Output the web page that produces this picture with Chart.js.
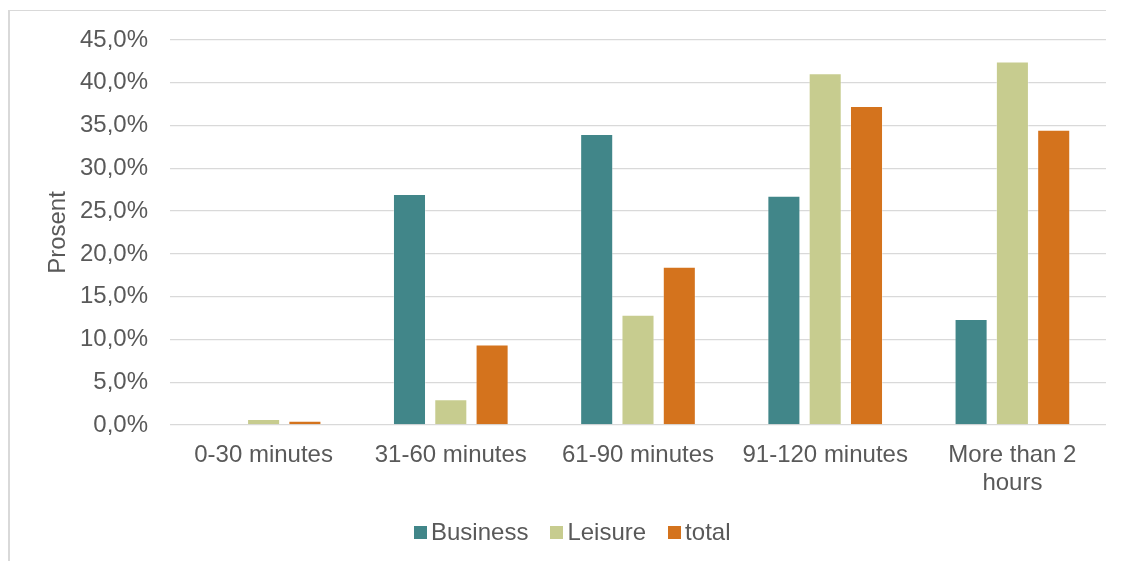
<!DOCTYPE html>
<html>
<head>
<meta charset="utf-8">
<script src="https://cdn.jsdelivr.net/npm/chart.js@4/dist/chart.umd.min.js"></script>
<style>
  html, body { margin: 0; padding: 0; background: #ffffff; }
  #wrap { position: relative; width: 1122px; height: 561px; overflow: hidden;
          font-family: "Liberation Sans", Arial, sans-serif; }
  #frame { position: absolute; left: 8px; top: 10px; width: 1098px; height: 560px;
           border-left: 2px solid #d9d9d9; border-top: 1px solid #d9d9d9; box-sizing: border-box; }
  #chart { position: absolute; left: 0; top: 0; }
  #legend { position: absolute; left: 414px; top: 518px; display: flex; align-items: center;
            font-size: 24px; color: #595959; line-height: 28px; white-space: nowrap; }
  .item { display: flex; align-items: center; margin-right: 22px; }
  .sw { width: 13px; height: 13px; margin-right: 4px; }
</style>
</head>
<body>
<div id="wrap">
  <div id="frame"></div>
  <canvas id="chart" width="1122" height="561"></canvas>
  <div id="legend"></div>
</div>
<script>
// Travel time categories (share of respondents, %)
const categories = ['0-30 minutes', '31-60 minutes', '61-90 minutes', '91-120 minutes', ['More than 2', 'hours']];
const seriesNames = ['Business', 'Leisure', 'total'];
const business = [0, 27.0, 34.0, 26.8, 12.4];
const leisure  = [0.7, 3.0, 12.9, 41.1, 42.5];
const total    = [0.5, 9.4, 18.5, 37.3, 34.5];
const yTicks   = [0, 5, 10, 15, 20, 25, 30, 35, 40, 45];
const axisTitle = 'Prosent';

const colors = ['#418689', '#c7cc8f', '#d4731d'];
const seriesValues = [business, leisure, total];
const textColor = '#595959';
const fontFamily = '"Liberation Sans", Arial, sans-serif';

const datasets = seriesNames.map((name, i) => ({
  label: name,
  data: seriesValues[i],
  backgroundColor: colors[i],
  borderColor: 'rgba(255,255,255,0.35)',
  borderWidth: 1,
  categoryPercentage: 0.662,
  barPercentage: 0.8
}));

const fmt = v => v.toFixed(1).replace('.', ',') + '%';

new Chart(document.getElementById('chart'), {
  type: 'bar',
  data: { labels: categories, datasets },
  options: {
    responsive: false,
    animation: false,
    devicePixelRatio: 1,
    layout: { padding: { left: 40, right: 16, top: 40, bottom: 56 } },
    plugins: {
      legend: { display: false },
      tooltip: { enabled: false }
    },
    scales: {
      x: {
        grid: { display: false },
        border: { display: false },
        ticks: {
          color: textColor,
          padding: 8,
          maxRotation: 0,
          autoSkip: false,
          font: { family: fontFamily, size: 24, lineHeight: 1.18 }
        },
        afterFit: s => { s.height = 80; }
      },
      y: {
        min: 0,
        max: 45,
        afterBuildTicks: s => { s.ticks = yTicks.map(v => ({ value: v })); },
        grid: { color: '#d9d9d9', lineWidth: 1.3, drawTicks: false },
        border: { display: false },
        ticks: {
          color: textColor,
          padding: 22,
          callback: v => fmt(v),
          font: { family: fontFamily, size: 24 }
        },
        title: {
          display: true,
          text: axisTitle,
          color: textColor,
          padding: { top: 4, bottom: 4 },
          font: { family: fontFamily, size: 24 }
        },
        afterFit: s => { s.width = 130; }
      }
    }
  }
});

// Legend row under the plot
const legend = document.getElementById('legend');
seriesNames.forEach((name, i) => {
  const item = document.createElement('div');
  item.className = 'item';
  const sw = document.createElement('span');
  sw.className = 'sw';
  sw.style.background = colors[i];
  const label = document.createElement('span');
  label.textContent = name;
  item.appendChild(sw);
  item.appendChild(label);
  legend.appendChild(item);
});
</script>
</body>
</html>
